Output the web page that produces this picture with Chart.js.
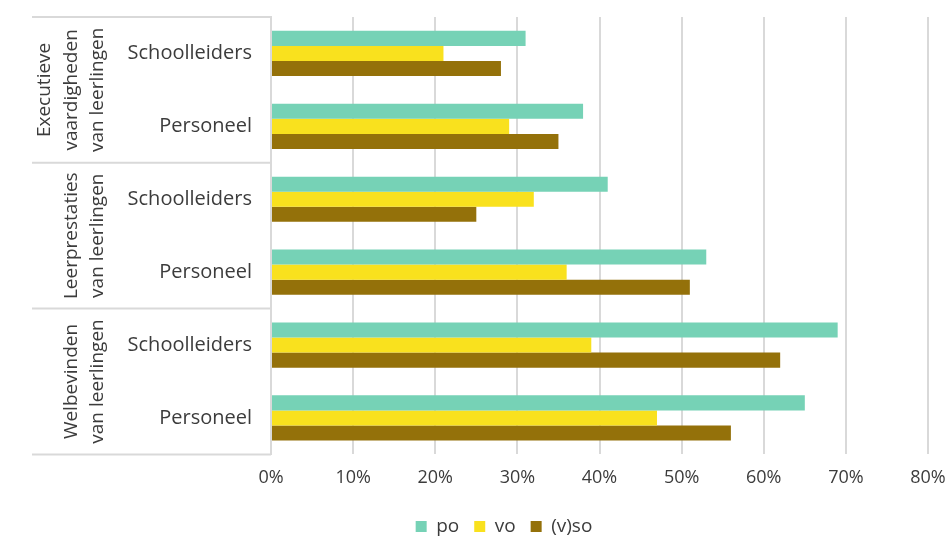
<!DOCTYPE html>
<html>
<head>
<meta charset="utf-8">
<script src="https://cdn.jsdelivr.net/npm/chart.js"></script>
<style>
  body { margin: 0; background: #fff; }
  #wrap { width: 951px; height: 536px; }
</style>
</head>
<body>
<div id="wrap"><canvas id="chart"></canvas></div>
<script>
  // data
  var categories = ['Schoolleiders', 'Personeel', 'Schoolleiders', 'Personeel', 'Schoolleiders', 'Personeel'];
  var groupLabels = [
    ['Executieve', 'vaardigheden', 'van leerlingen'],
    ['Leerprestaties', 'van leerlingen'],
    ['Welbevinden', 'van leerlingen']
  ];
  var groupSizes = [2, 2, 2];
  var seriesNames = ['po', 'vo', '(v)so'];
  var poValues = [31, 38, 41, 53, 69, 65];
  var voValues = [21, 29, 32, 36, 39, 47];
  var vsoValues = [28, 35, 25, 51, 62, 56];
  var xMax = 80;
  var xStep = 10;

  var textColor = '#3c3c3c';
  var lineColor = '#d9d9d9';
  var fontFamily = '"Open Sans", "Noto Sans", sans-serif';

  // group labels + separator lines on the left
  var groupPlugin = {
    id: 'groups',
    afterLayout: function (chart) {
      // legend sits a bit right of centre in the original
      chart.legend.left += 40;
      chart.legend.right += 40;
    },
    afterDraw: function (chart) {
      var ctx = chart.ctx;
      var y = chart.scales.y;
      var area = chart.chartArea;
      var x0 = 32;
      var bounds = [area.top];
      var idx = 0;
      groupSizes.forEach(function (n) {
        idx += n;
        if (idx >= categories.length) {
          bounds.push(area.bottom);
        } else {
          bounds.push((y.getPixelForValue(idx - 1) + y.getPixelForValue(idx)) / 2);
        }
      });
      ctx.save();
      ctx.strokeStyle = lineColor;
      ctx.lineWidth = 2;
      bounds.forEach(function (b) {
        ctx.beginPath();
        ctx.moveTo(x0, b);
        ctx.lineTo(area.left, b);
        ctx.stroke();
      });
      ctx.fillStyle = textColor;
      ctx.font = '19px ' + fontFamily;
      ctx.textAlign = 'center';
      ctx.textBaseline = 'middle';
      groupLabels.forEach(function (lines, g) {
        var cy = (bounds[g] + bounds[g + 1]) / 2;
        lines.forEach(function (txt, i) {
          var cx = 98 - (lines.length - 1 - i) * 26.5;
          ctx.save();
          ctx.translate(cx, cy);
          ctx.rotate(-Math.PI / 2);
          ctx.fillText(txt, 0, 0);
          ctx.restore();
        });
      });
      ctx.restore();
    }
  };

  new Chart('chart', {
    type: 'bar',
    data: {
      labels: categories,
      datasets: [
        { label: seriesNames[0], data: poValues, backgroundColor: '#76d2b6' },
        { label: seriesNames[1], data: voValues, backgroundColor: '#f9e11e' },
        { label: seriesNames[2], data: vsoValues, backgroundColor: '#94710a' }
      ]
    },
    options: {
      indexAxis: 'y',
      responsive: true,
      maintainAspectRatio: false,
      animation: false,
      datasets: {
        bar: { categoryPercentage: 0.62, barPercentage: 1 }
      },
      layout: { padding: { top: 17, right: 23, bottom: -10, left: 0 } },
      scales: {
        x: {
          min: 0,
          max: xMax,
          afterFit: function (s) { s.paddingLeft = 0; s.paddingRight = 0; },
          ticks: {
            stepSize: xStep,
            padding: 13,
            color: textColor,
            font: { family: fontFamily, size: 18 },
            callback: function (v) { return v + '%'; }
          },
          grid: { color: lineColor, lineWidth: 2, drawTicks: false },
          border: { display: false }
        },
        y: {
          afterFit: function (s) { s.width = 271; s.paddingTop = 0; s.paddingBottom = 0; },
          ticks: {
            padding: 19,
            color: textColor,
            font: { family: fontFamily, size: 20 }
          },
          grid: { display: false, drawTicks: false },
          border: { display: true, color: lineColor, width: 2 }
        }
      },
      plugins: {
        legend: {
          position: 'bottom',
          labels: {
            boxWidth: 11,
            boxHeight: 11,
            padding: 15,
            color: textColor,
            font: { family: fontFamily, size: 19 }
          }
        },
        tooltip: { enabled: false }
      }
    },
    plugins: [groupPlugin]
  });
</script>
</body>
</html>
